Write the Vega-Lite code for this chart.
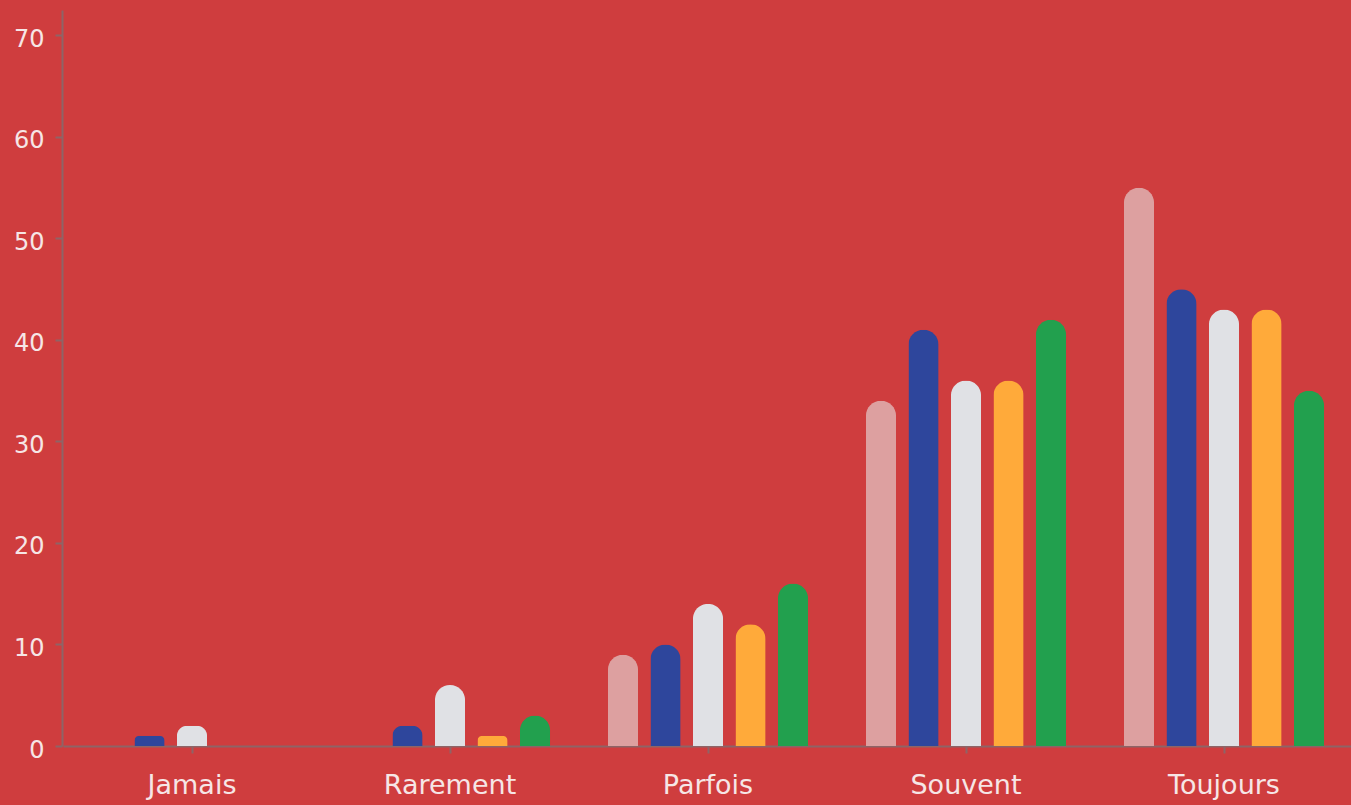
{
  "$schema": "https://vega.github.io/schema/vega-lite/v6.json",
  "width": 1290,
  "height": 736,
  "autosize": {"type": "none"},
  "padding": {"left": 63, "top": 10, "right": 0, "bottom": 59},
  "background": "#CF3D3E",
  "config": {"view": {"stroke": null}},
  "data": {
    "values": [
      {"freq": "Jamais", "serie": "A", "valeur": 0},
      {"freq": "Jamais", "serie": "B", "valeur": 1},
      {"freq": "Jamais", "serie": "C", "valeur": 2},
      {"freq": "Jamais", "serie": "D", "valeur": 0},
      {"freq": "Jamais", "serie": "E", "valeur": 0},
      {"freq": "Rarement", "serie": "A", "valeur": 0},
      {"freq": "Rarement", "serie": "B", "valeur": 2},
      {"freq": "Rarement", "serie": "C", "valeur": 6},
      {"freq": "Rarement", "serie": "D", "valeur": 1},
      {"freq": "Rarement", "serie": "E", "valeur": 3},
      {"freq": "Parfois", "serie": "A", "valeur": 9},
      {"freq": "Parfois", "serie": "B", "valeur": 10},
      {"freq": "Parfois", "serie": "C", "valeur": 14},
      {"freq": "Parfois", "serie": "D", "valeur": 12},
      {"freq": "Parfois", "serie": "E", "valeur": 16},
      {"freq": "Souvent", "serie": "A", "valeur": 34},
      {"freq": "Souvent", "serie": "B", "valeur": 41},
      {"freq": "Souvent", "serie": "C", "valeur": 36},
      {"freq": "Souvent", "serie": "D", "valeur": 36},
      {"freq": "Souvent", "serie": "E", "valeur": 42},
      {"freq": "Toujours", "serie": "A", "valeur": 55},
      {"freq": "Toujours", "serie": "B", "valeur": 45},
      {"freq": "Toujours", "serie": "C", "valeur": 43},
      {"freq": "Toujours", "serie": "D", "valeur": 43},
      {"freq": "Toujours", "serie": "E", "valeur": 35}
    ]
  },
  "mark": {"type": "bar", "cornerRadiusTopLeft": 15, "cornerRadiusTopRight": 15},
  "encoding": {
    "x": {
      "field": "freq", "type": "nominal",
      "sort": ["Jamais", "Rarement", "Parfois", "Souvent", "Toujours"],
      "scale": {"paddingInner": 0, "paddingOuter": 0},
      "axis": {
        "title": null, "labelAngle": 0, "domainColor": "#8E6466", "domainWidth": 2,
        "tickColor": "#8E6466", "tickWidth": 2, "tickSize": 7,
        "labelColor": "#F6E6E6", "labelFont": "DejaVu Sans", "labelFontSize": 27,
        "labelPadding": 19, "grid": false
      }
    },
    "xOffset": {
      "field": "serie", "type": "nominal",
      "scale": {"paddingInner": 0.29, "paddingOuter": 0.68}
    },
    "y": {
      "field": "valeur", "type": "quantitative",
      "scale": {"domain": [0, 72.5], "nice": false},
      "axis": {
        "title": null, "values": [0, 10, 20, 30, 40, 50, 60, 70], "grid": false,
        "offset": 1,
        "domainColor": "#8E6466", "domainWidth": 2,
        "tickColor": "#8E6466", "tickWidth": 2, "tickSize": 7,
        "labelColor": "#F6E6E6", "labelFont": "DejaVu Sans", "labelFontSize": 24,
        "labelPadding": 11, "labelOffset": 4
      }
    },
    "color": {
      "field": "serie", "type": "nominal", "legend": null,
      "scale": {"domain": ["A", "B", "C", "D", "E"], "range": ["#DDA0A0", "#2E469C", "#E0E1E5", "#FFAA3A", "#22A04E"]}
    }
  }
}
